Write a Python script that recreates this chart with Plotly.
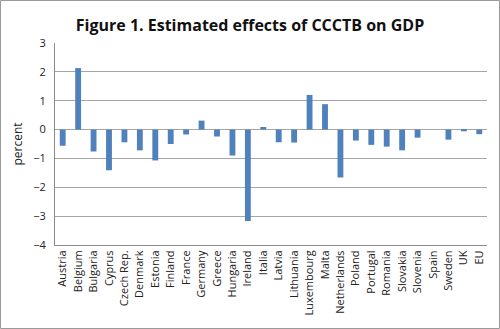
import plotly.graph_objects as go

countries = ["Austria", "Belgium", "Bulgaria", "Cyprus", "Czech Rep.", "Denmark", "Estonia",
             "Finland", "France", "Germany", "Greece", "Hungaria", "Ireland", "Italia", "Latvia",
             "Lithuania", "Luxembourg", "Malta", "Netherlands", "Poland", "Portugal", "Romania",
             "Slovakia", "Slovenia", "Spain", "Sweden", "UK", "EU"]
effects = [-0.56, 2.13, -0.76, -1.41, -0.44, -0.72, -1.07, -0.50, -0.17, 0.31, -0.24, -0.90,
           -3.17, 0.09, -0.44, -0.45, 1.20, 0.88, -1.66, -0.38, -0.53, -0.59, -0.72, -0.28,
           0.0, -0.35, -0.06, -0.16]
y_ticks = [3, 2, 1, 0, -1, -2, -3, -4]

fig = go.Figure(go.Bar(x=countries, y=effects, marker=dict(color="#4F81BD", line=dict(width=0)),
                       width=0.38))

L, R, T, B = 55, 13, 43, 84
W, H = 500, 329
pw, ph = W - L - R, H - T - B

fig.update_layout(
    width=W, height=H,
    margin=dict(l=L, r=R, t=T, b=B),
    paper_bgcolor="white", plot_bgcolor="white",
    font=dict(family="Open Sans, Liberation Sans, sans-serif", size=11, color="#222"),
    title=dict(text="<b>Figure 1. Estimated effects of CCCTB on GDP</b>", x=0.5, xanchor="center",
               y=1 - 25 / H, yanchor="middle",
               font=dict(size=16, family="Open Sans, sans-serif", color="#111")),
    showlegend=False,
    bargap=0.5,
    shapes=[dict(type="rect", xref="paper", yref="paper",
                 x0=-(L - 0.5) / pw, x1=1 + (R - 0.5) / pw,
                 y0=-(B - 0.5) / ph, y1=1 + (T - 0.5) / ph,
                 line=dict(color="#9a9a9a", width=1), fillcolor="rgba(0,0,0,0)")],
)
fig.update_yaxes(range=[-4, 3], tickvals=y_ticks, showgrid=True, gridcolor="#a6a6a6", gridwidth=1,
                 zeroline=True, zerolinecolor="#a6a6a6", zerolinewidth=1,
                 showline=True, linecolor="#8c8c8c", linewidth=1,
                 title=dict(text="percent", font=dict(size=12), standoff=8),
                 tickfont=dict(size=11), ticks="", ticklen=0, ticklabelstandoff=6)
fig.update_xaxes(tickangle=-90, showline=True, linecolor="#8c8c8c", linewidth=1, mirror=False,
                 tickfont=dict(size=11), ticks="", showgrid=False)

fig.write_html("out.html")
